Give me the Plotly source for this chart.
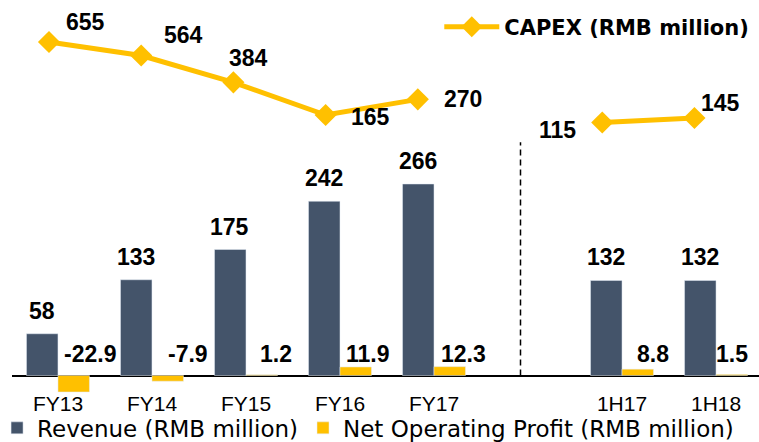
import plotly.graph_objects as go

# ---- data ----
categories = ["FY13", "FY14", "FY15", "FY16", "FY17", "1H17", "1H18"]
axis_categories = ["FY13", "FY14", "FY15", "FY16", "FY17", " ", "1H17", "1H18"]
revenue = [58, 133, 175, 242, 266, 132, 132]
net_profit = [-22.9, -7.9, 1.2, 11.9, 12.3, 8.8, 1.5]
capex = [655, 564, 384, 165, 270, 115, 145]

revenue_name = "Revenue (RMB million)"
profit_name = "Net Operating Profit (RMB million)"
capex_name = "<b>CAPEX (RMB million)</b>"

# ---- style ----
REV_COLOR = "#44546A"
GOLD = "#FFC000"
NUM_FONT = dict(family="Liberation Sans, Arial", size=23, color="black")
capex_label_shift = [(37, 20), (42, 21), (15, 24), (45, -2), (45, 0), (-45, -8), (26, 15)]
profit_label_dx = [32, 36, 30, 28, 29, 31, 16]

# CAPEX line is broken between the full-year and half-year periods
n_fy = 5
capex_x = categories[:n_fy] + [" "] + categories[n_fy:]
capex_y = capex[:n_fy] + [None] + capex[n_fy:]

fig = go.Figure()
fig.add_trace(go.Bar(x=categories, y=revenue, name=revenue_name,
                     marker=dict(color=REV_COLOR), legend="legend"))
fig.add_trace(go.Bar(x=categories, y=net_profit, name=profit_name,
                     marker=dict(color=GOLD), legend="legend"))
fig.add_trace(go.Scatter(x=capex_x, y=capex_y, name=capex_name, mode="lines+markers",
                         connectgaps=False,
                         line=dict(color=GOLD, width=5),
                         marker=dict(symbol="diamond", size=17, color=GOLD),
                         xaxis="x2", yaxis="y2", legend="legend2"))

annotations = []
for c, v in zip(categories, revenue):
    annotations.append(dict(x=c, y=v, xref="x", yref="y", text=f"<b>{v}</b>",
                            showarrow=False, xanchor="center", yanchor="middle",
                            xshift=-16, yshift=23, font=NUM_FONT))
for c, v, dx in zip(categories, net_profit, profit_label_dx):
    annotations.append(dict(x=c, y=0, xref="x", yref="y", text=f"<b>{v:.1f}</b>",
                            showarrow=False, xanchor="center", yanchor="middle",
                            xshift=dx, yshift=22, font=NUM_FONT))
for (c, v), (dx, dy) in zip(zip(categories, capex), capex_label_shift):
    annotations.append(dict(x=c, y=v, xref="x2", yref="y2", text=f"<b>{v}</b>",
                            showarrow=False, xanchor="center", yanchor="middle",
                            xshift=dx, yshift=dy, font=NUM_FONT))

fig.update_layout(
    width=759, height=442, autosize=False,
    margin=dict(l=12, r=0, t=5, b=49, autoexpand=False),
    paper_bgcolor="white", plot_bgcolor="white",
    barmode="group", bargap=0.33, bargroupgap=0,
    hovermode=False,
    annotations=annotations,
    shapes=[dict(type="line", xref="x", yref="y", x0=4.92, x1=4.92, y0=0, y1=324,
                 line=dict(color="black", width=1.5, dash="6px,4px"))],
    xaxis=dict(type="category", categoryorder="array", categoryarray=axis_categories,
               range=[-0.489, 7.457], showgrid=False, showline=False, ticks="",
               ticklabelstandoff=-4,
               tickfont=dict(family="Liberation Sans, Arial", size=21, color="black")),
    yaxis=dict(range=[-24.3, 514.6], showgrid=False, showticklabels=False,
               zeroline=True, zerolinecolor="black", zerolinewidth=1.5),
    xaxis2=dict(type="category", categoryorder="array", categoryarray=axis_categories,
                range=[-0.401, 7.70], overlaying="x", visible=False),
    yaxis2=dict(range=[-1700, 903], overlaying="y", visible=False),
    legend=dict(orientation="h", x=-0.02, xanchor="left", y=-0.090, yanchor="middle",
                font=dict(family="DejaVu Sans", size=23, color="black"),
                bgcolor="rgba(0,0,0,0)", itemwidth=30),
    legend2=dict(orientation="h", x=0.572, xanchor="left", y=0.943, yanchor="middle",
                 font=dict(family="DejaVu Sans", size=21, color="black"),
                 bgcolor="rgba(0,0,0,0)", itemwidth=55),
)

fig.write_html("out.html", config={"displayModeBar": False},
               post_script="document.body.style.margin='0px';document.body.style.overflow='hidden';")
